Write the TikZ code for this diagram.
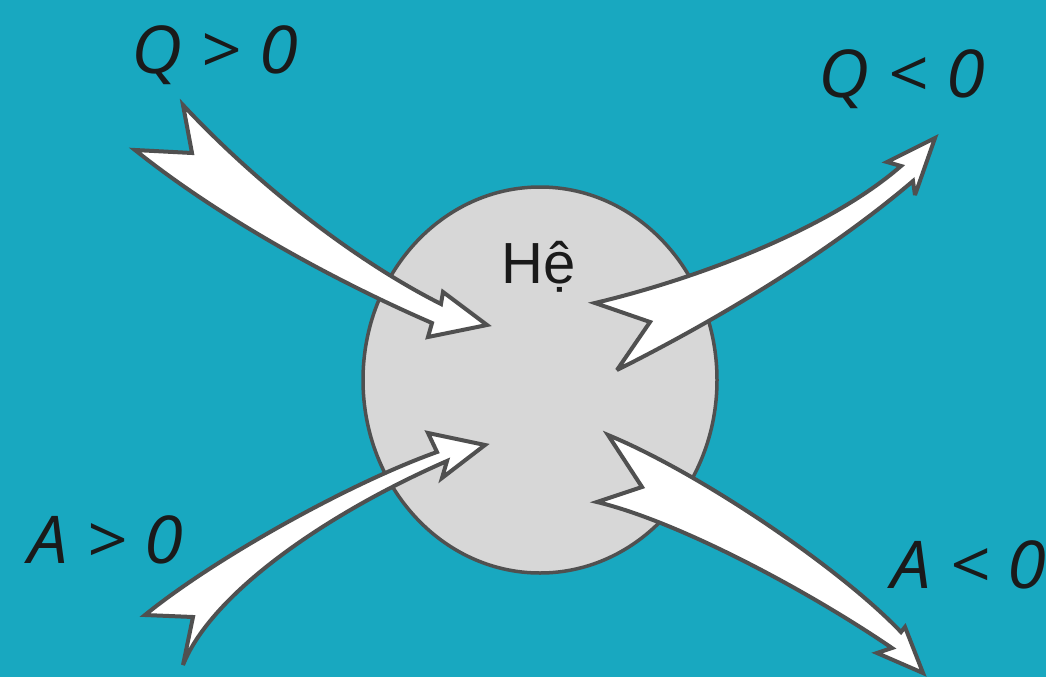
\documentclass[tikz,border=0pt]{standalone}
\usepackage{fontspec}
\usetikzlibrary{shapes.geometric}
\setmainfont{Liberation Sans}
\newfontfamily\labfont{Open Sans}[FakeStretch=1.07]
\definecolor{bgteal}{RGB}{24,168,192}
\definecolor{sysgray}{RGB}{215,215,215}
\definecolor{edgegray}{RGB}{80,80,80}
\definecolor{inkdark}{RGB}{26,26,26}
\tikzset{
  bigarrow/.style={fill=white, draw=edgegray, line width=4pt, line join=miter, miter limit=4},
  signlabel/.style={anchor=base west, inner sep=0pt, text=inkdark, font=\labfont\itshape\fontsize{66}{79}\selectfont},
}
\begin{document}
\begin{tikzpicture}[x=1pt,y=-1pt]
\useasboundingbox (0,0) rectangle (1046,677);
\clip (0,0) rectangle (1046,677);
\fill[bgteal] (0,0) rectangle (1046,677);
% system
\node[draw=edgegray, line width=3.5pt, fill=sysgray, ellipse, minimum width=354pt, minimum height=386pt, inner sep=0pt] (sys) at (540,380) {};
\node[anchor=base west, inner sep=0pt, text=inkdark, font=\fontsize{58}{70}\selectfont] (he) at (501,283) {Hệ};
% Q > 0 arrow (in)
\draw[bigarrow] (183,105) -- (192,153) -- (135,150)
  .. controls (225,222) and (342,284) .. (432,323)
  -- (428,337) -- (487,325) -- (443,292) -- (441,304)
  .. controls (350,258) and (253,180) .. (183,105) -- cycle;
% Q < 0 arrow (out)
\draw[bigarrow] (595,303) -- (650,322) -- (617,370)
  .. controls (717,320) and (830,252) .. (913,181)
  -- (915,195) -- (935,138) -- (887,162) -- (901,166)
  .. controls (830,228) and (700,278) .. (595,303) -- cycle;
% A > 0 arrow (in)
\draw[bigarrow] (145,615)
  .. controls (215,558) and (350,483) .. (437,452)
  -- (428,433) -- (485,445) -- (442,478) -- (447,461)
  .. controls (330,512) and (212,592) .. (183,665)
  -- (193,617) -- cycle;
% A < 0 arrow (out)
\draw[bigarrow] (608,435)
  .. controls (700,473) and (840,568) .. (901,632)
  -- (905,627) -- (923,673) -- (877,653) -- (892,648)
  .. controls (810,592) and (680,522) .. (597,502)
  -- (642,487) -- cycle;
% labels
\node[signlabel] (qin) at (131,74) {Q > 0};
\node[signlabel] (qout) at (818,97) {Q < 0};
\node[signlabel] (ain) at (28,563) {A > 0};
\node[signlabel] (aout) at (891,588) {A < 0};
\end{tikzpicture}
\end{document}
